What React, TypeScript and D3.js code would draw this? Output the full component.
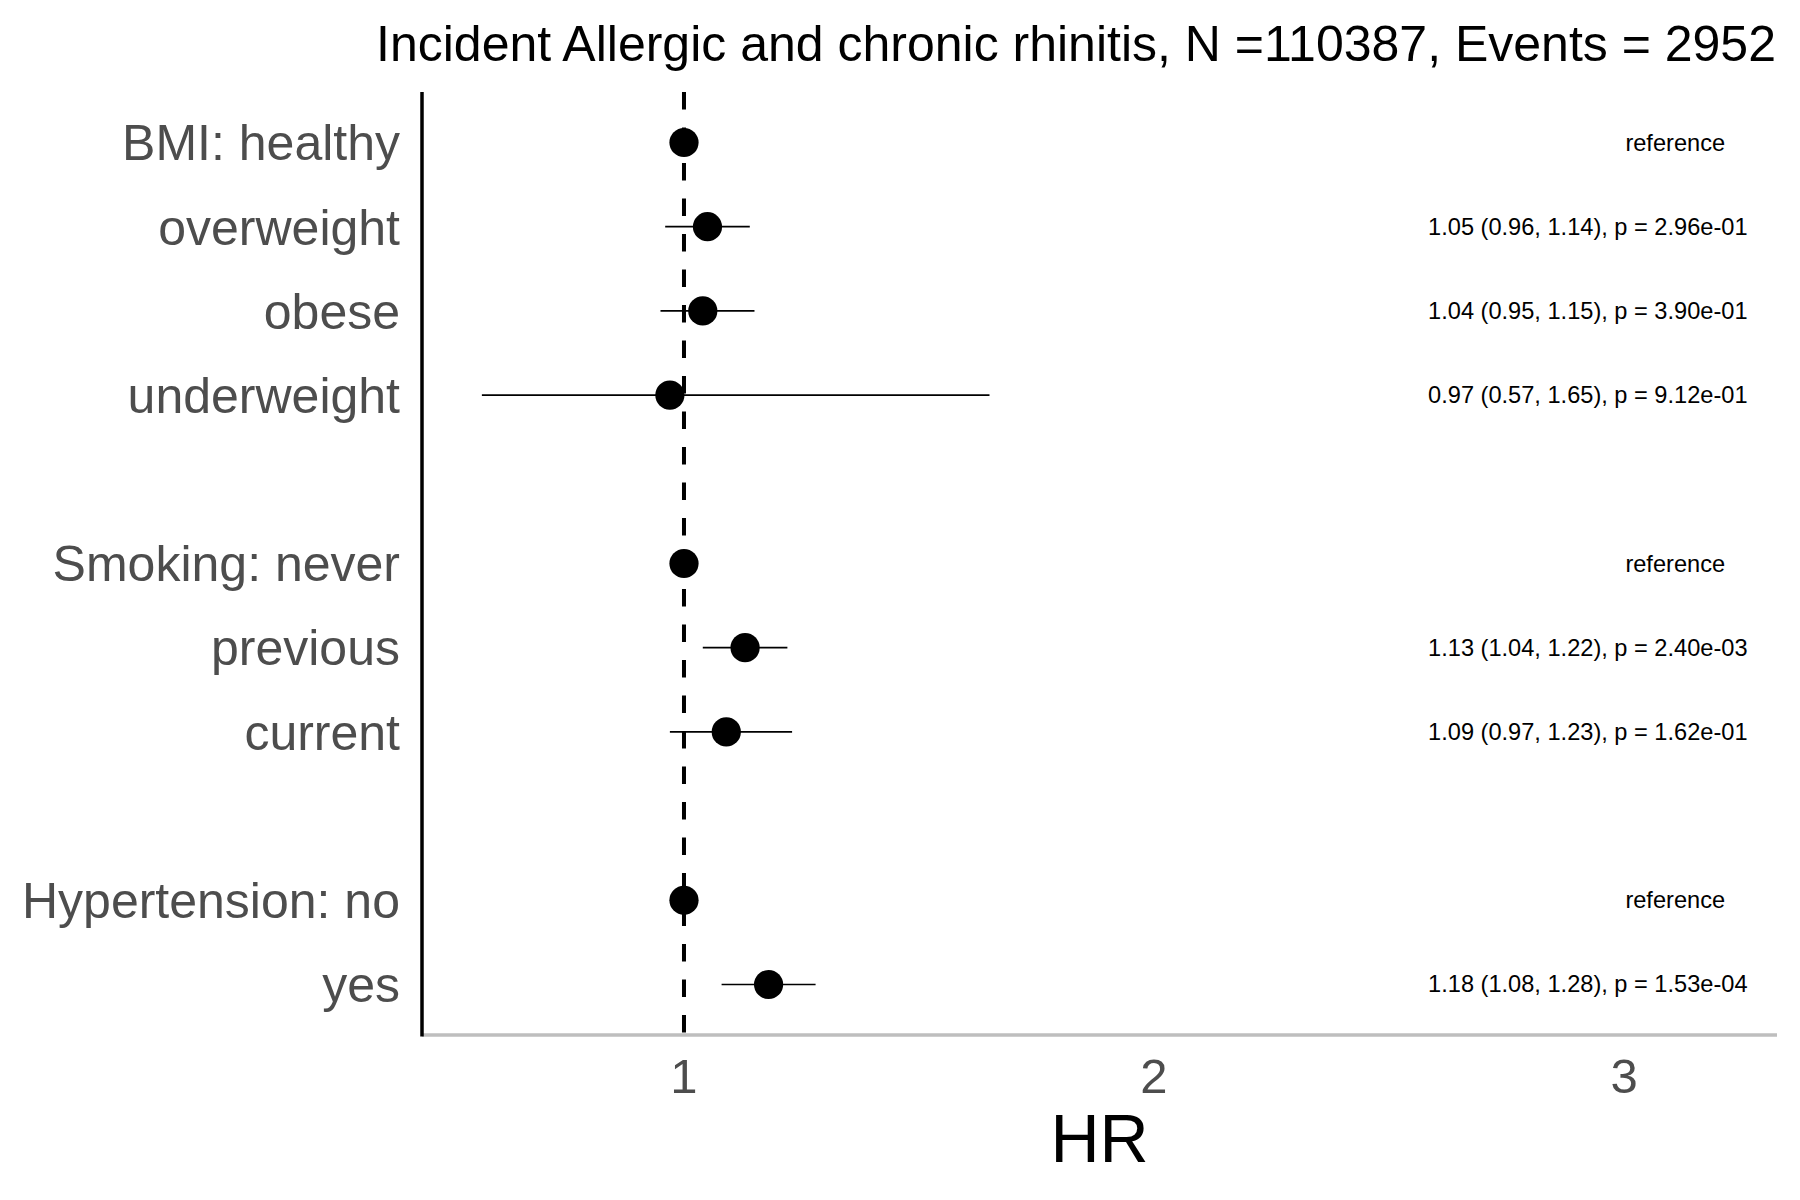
import React from "react";
import * as d3 from "d3";

const title = "Incident Allergic and chronic rhinitis, N =110387, Events = 2952";
const labels = [
  "BMI: healthy",
  "overweight",
  "obese",
  "underweight",
  "Smoking: never",
  "previous",
  "current",
  "Hypertension: no",
  "yes",
];
const rowIndex = [0, 1, 2, 3, 5, 6, 7, 9, 10];
const hr = [1, 1.05, 1.04, 0.97, 1, 1.13, 1.09, 1, 1.18];
const lower: (number | null)[] = [null, 0.96, 0.95, 0.57, null, 1.04, 0.97, null, 1.08];
const upper: (number | null)[] = [null, 1.14, 1.15, 1.65, null, 1.22, 1.23, null, 1.28];
const pvals: (string | null)[] = [null, "2.96e-01", "3.90e-01", "9.12e-01", null, "2.40e-03", "1.62e-01", null, "1.53e-04"];
const xTicks = [1, 2, 3];
const xLabel = "HR";

const W = 1800;
const H = 1200;
const FONT = "'Liberation Sans', Arial, Helvetica, sans-serif";

export default function App() {
  const left = 422;
  const right = 1777;
  const top = 92;
  const bottom = 1035;

  const x = d3.scaleLinear().domain([0.4426, 3.3255]).range([left, right]);
  const y = d3.scaleLinear().domain([-0.6, 10.6]).range([top, bottom]);

  const refX = x(3.109);
  const statX = x(2.923);

  return (
    <svg
      width={W}
      height={H}
      viewBox={`0 0 ${W} ${H}`}
      style={{ position: "absolute", left: 0, top: 0, background: "#fff" }}
      fontFamily={FONT}
    >
      <rect x={0} y={0} width={W} height={H} fill="#fff" />
      {/* title */}
      <text x={1776} y={61} textAnchor="end" fontSize={50} fill="#000">
        {title}
      </text>

      {/* reference dashed line */}
      <line
        x1={x(1)}
        x2={x(1)}
        y1={top}
        y2={bottom}
        stroke="#000"
        strokeWidth={4}
        strokeDasharray="17.6,17.9"
      />

      {/* error bars */}
      {hr.map((v, i) =>
        lower[i] != null && upper[i] != null ? (
          <line
            key={"e" + i}
            x1={x(lower[i] as number)}
            x2={x(upper[i] as number)}
            y1={y(rowIndex[i])}
            y2={y(rowIndex[i])}
            stroke="#000"
            strokeWidth={1.7}
          />
        ) : null
      )}

      {/* points */}
      {hr.map((v, i) => (
        <circle key={"p" + i} cx={x(v)} cy={y(rowIndex[i])} r={14.6} fill="#000" />
      ))}

      {/* annotations */}
      {hr.map((v, i) =>
        pvals[i] == null ? (
          <text
            key={"a" + i}
            x={refX}
            y={y(rowIndex[i]) + 8}
            textAnchor="middle"
            fontSize={23.6}
            fill="#000"
          >
            reference
          </text>
        ) : (
          <text
            key={"a" + i}
            x={statX}
            y={y(rowIndex[i]) + 8}
            textAnchor="middle"
            fontSize={23.6}
            fill="#000"
          >
            {`${v.toFixed(2)} (${(lower[i] as number).toFixed(2)}, ${(upper[i] as number).toFixed(2)}), p = ${pvals[i]}`}
          </text>
        )
      )}

      {/* y labels */}
      {labels.map((l, i) => (
        <text
          key={"l" + i}
          x={400}
          y={y(rowIndex[i]) + 17.8}
          textAnchor="end"
          fontSize={50}
          fill="#4d4d4d"
        >
          {l}
        </text>
      ))}

      {/* axes */}
      <line x1={left} x2={right} y1={bottom} y2={bottom} stroke="#bebebe" strokeWidth={3.5} />
      <line x1={left} x2={left} y1={top} y2={bottom + 1.5} stroke="#000" strokeWidth={3.5} />

      {xTicks.map((t) => (
        <text key={"t" + t} x={x(t)} y={1093} textAnchor="middle" fontSize={49} fill="#4d4d4d">
          {t}
        </text>
      ))}

      <text x={(left + right) / 2} y={1162} textAnchor="middle" fontSize={68} fill="#000">
        {xLabel}
      </text>
    </svg>
  );
}
